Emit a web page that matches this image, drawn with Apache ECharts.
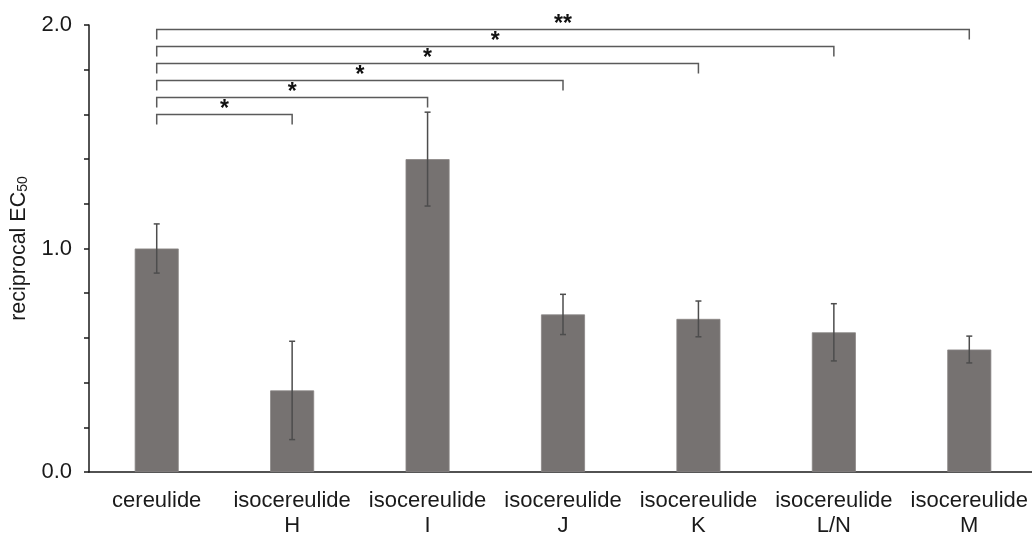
<!DOCTYPE html>
<html>
<head>
<meta charset="utf-8">
<script src="https://cdn.jsdelivr.net/npm/echarts@6/dist/echarts.min.js"></script>
<style>
html,body{margin:0;padding:0;background:#fff;}
#chart{width:1032px;height:533px;}
</style>
</head>
<body>
<div id="chart"></div>
<script>
var categories = ['cereulide', 'isocereulide\nH', 'isocereulide\nI', 'isocereulide\nJ', 'isocereulide\nK', 'isocereulide\nL/N', 'isocereulide\nM'];
var values = [1.00, 0.365, 1.40, 0.705, 0.685, 0.625, 0.548];
var errors = [0.11, 0.22, 0.21, 0.09, 0.08, 0.128, 0.06];
var bracketTargets = [1, 2, 3, 4, 5, 6];
var bracketLevels = [1.60, 1.676, 1.752, 1.828, 1.904, 1.98];
var bracketLabels = ['*', '*', '*', '*', '*', '**'];

var FONT = '"Liberation Sans", Arial, sans-serif';
var chart = echarts.init(document.getElementById('chart'));

var errData = values.map(function (v, i) { return [i, v - errors[i], v + errors[i]]; });
var brData = bracketTargets.map(function (t, i) { return [0, t, bracketLevels[i], bracketLabels[i]]; });

chart.setOption({
  animation: false,
  grid: { left: 89, top: 25, width: 948, bottom: 61, containLabel: false, outerBoundsMode: 'none' },
  xAxis: {
    type: 'category',
    data: categories,
    axisLine: { lineStyle: { color: '#1a1a1a', width: 1.5 } },
    axisTick: { alignWithLabel: true, length: 5, lineStyle: { color: '#1a1a1a', width: 1.5 } },
    axisLabel: { color: '#1a1a1a', fontFamily: FONT, fontSize: 22, lineHeight: 25, margin: 16, interval: 0 }
  },
  yAxis: {
    type: 'value',
    min: 0, max: 2, interval: 0.2,
    splitLine: { show: false },
    axisLine: { show: true, lineStyle: { color: '#1a1a1a', width: 1.5 } },
    axisTick: { show: true, length: 5, lineStyle: { color: '#1a1a1a', width: 1.5 } },
    axisLabel: {
      color: '#1a1a1a', fontFamily: FONT, fontSize: 22, margin: 17,
      formatter: function (v) { return Math.abs(v - Math.round(v)) < 1e-6 ? v.toFixed(1) : ''; }
    },
    name: '{a|reciprocal EC}{s|50}',
    nameLocation: 'middle',
    nameRotate: 90,
    nameGap: 59,
    nameTextStyle: {
      rich: {
        a: { fontFamily: FONT, fontSize: 21.5, color: '#1a1a1a' },
        s: { fontFamily: FONT, fontSize: 14, color: '#1a1a1a', verticalAlign: 'bottom', padding: [8, 0, 0, 0] }
      }
    }
  },
  series: [
    {
      type: 'bar',
      data: values,
      barWidth: 44,
      itemStyle: { color: '#767271', borderColor: '#8a8685', borderWidth: 0.8 },
      z: 2
    },
    {
      type: 'custom',
      data: errData,
      z: 3,
      renderItem: function (params, api) {
        var lo = api.coord([api.value(0), api.value(1)]);
        var hi = api.coord([api.value(0), api.value(2)]);
        var cap = 3;
        var st = { stroke: '#4d4d4d', lineWidth: 1.5 };
        return {
          type: 'group',
          children: [
            { type: 'line', shape: { x1: hi[0], y1: hi[1], x2: lo[0], y2: lo[1] }, style: st },
            { type: 'line', shape: { x1: hi[0] - cap, y1: hi[1], x2: hi[0] + cap, y2: hi[1] }, style: st },
            { type: 'line', shape: { x1: lo[0] - cap, y1: lo[1], x2: lo[0] + cap, y2: lo[1] }, style: st }
          ]
        };
      }
    },
    {
      type: 'custom',
      data: brData,
      z: 4,
      renderItem: function (params, api) {
        var a = api.value(0), b = api.value(1), lv = api.value(2);
        var p1 = api.coord([a, lv]);
        var p2 = api.coord([b, lv]);
        var leg = 10;
        var label = brData[params.dataIndex][3];
        return {
          type: 'group',
          children: [
            {
              type: 'polyline',
              shape: { points: [[p1[0], p1[1] + leg], [p1[0], p1[1]], [p2[0], p2[1]], [p2[0], p2[1] + leg]] },
              style: { stroke: '#5a5a5a', lineWidth: 1.5, fill: null }
            },
            {
              type: 'text',
              x: (p1[0] + p2[0]) / 2,
              y: p1[1] + 7,
              style: { text: label, fontFamily: FONT, fontSize: 23, fontWeight: 'bold', fill: '#111', align: 'center', verticalAlign: 'bottom' }
            }
          ]
        };
      }
    }
  ]
});
</script>
</body>
</html>
